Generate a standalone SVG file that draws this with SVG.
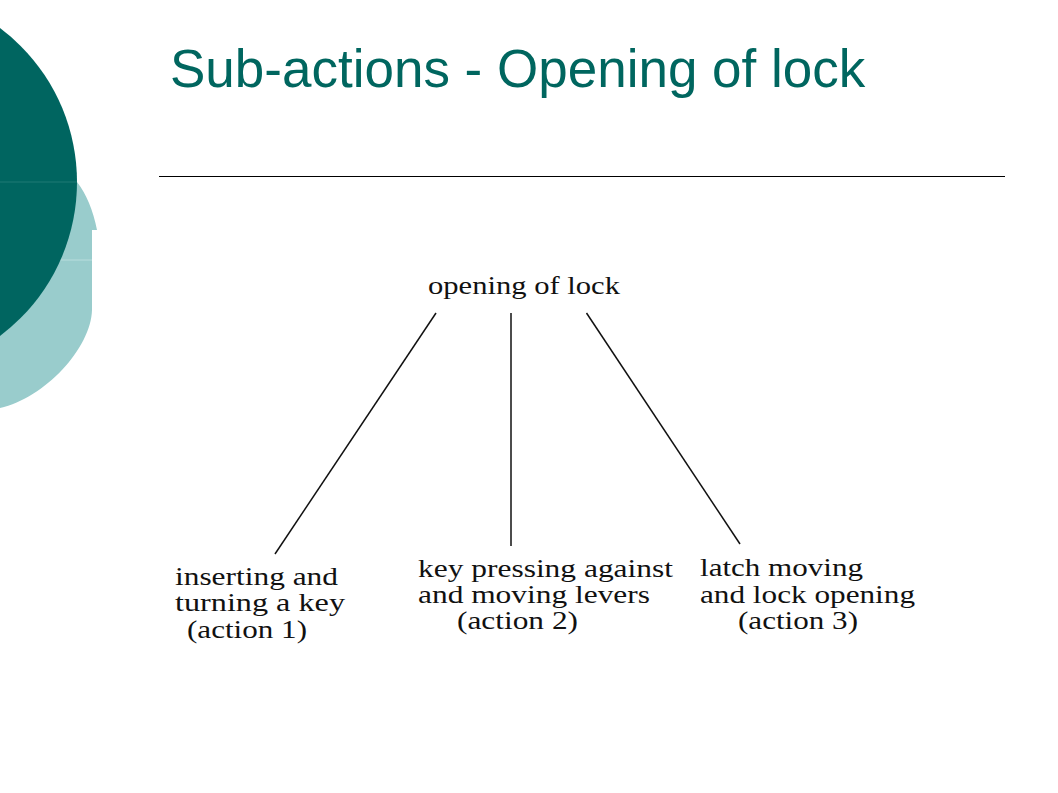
<svg xmlns="http://www.w3.org/2000/svg" width="1058" height="793" viewBox="0 0 1058 793">
<style>
.title{font-family:"Liberation Sans",Arial,sans-serif;font-size:53px;fill:#00665F}
.lbl{font-family:"Liberation Serif","Times New Roman",serif;font-size:24.5px;fill:#111}
.conn line{stroke:#111;stroke-width:1.5;fill:none}
</style>
<rect width="1058" height="793" fill="#ffffff"/>
<g id="decoration">
<path d="M0,150 L72,150 L77,182 Q91,200 97,230 L92,230 L92,310 C91,348 45,398 0,408 Z" fill="#99CCCC"/>
<line x1="60" y1="260" x2="92" y2="260" stroke="#B9DDDD" stroke-width="1"/>
<circle cx="-115.5" cy="182" r="192.5" fill="#006560"/>
<line x1="0" y1="182" x2="77" y2="182" stroke="#1F7A75" stroke-width="1"/>
</g>
<text class="title" x="170" y="87">Sub-actions - Opening of lock</text>
<line x1="159" y1="176.5" x2="1005" y2="176.5" stroke="#000" stroke-width="1"/>
<g id="connectors" class="conn">
<line x1="436" y1="313" x2="275" y2="554"/>
<line x1="511" y1="313" x2="511" y2="546"/>
<line x1="586.5" y1="313" x2="740" y2="544"/>
</g>
<g id="root">
<text class="lbl" x="428" y="294" textLength="192" lengthAdjust="spacingAndGlyphs">opening of lock</text>
</g>
<g id="action1">
<text class="lbl" x="175" y="585" textLength="163" lengthAdjust="spacingAndGlyphs">inserting and</text>
<text class="lbl" x="175" y="611" textLength="170" lengthAdjust="spacingAndGlyphs">turning a key</text>
<text class="lbl" x="187" y="638" textLength="120" lengthAdjust="spacingAndGlyphs">(action 1)</text>
</g>
<g id="action2">
<text class="lbl" x="418" y="577" textLength="255" lengthAdjust="spacingAndGlyphs">key pressing against</text>
<text class="lbl" x="418" y="603" textLength="232" lengthAdjust="spacingAndGlyphs">and moving levers</text>
<text class="lbl" x="457" y="629" textLength="121" lengthAdjust="spacingAndGlyphs">(action 2)</text>
</g>
<g id="action3">
<text class="lbl" x="700" y="576" textLength="163" lengthAdjust="spacingAndGlyphs">latch moving</text>
<text class="lbl" x="700" y="603" textLength="215" lengthAdjust="spacingAndGlyphs">and lock opening</text>
<text class="lbl" x="738" y="629" textLength="120" lengthAdjust="spacingAndGlyphs">(action 3)</text>
</g>
</svg>
